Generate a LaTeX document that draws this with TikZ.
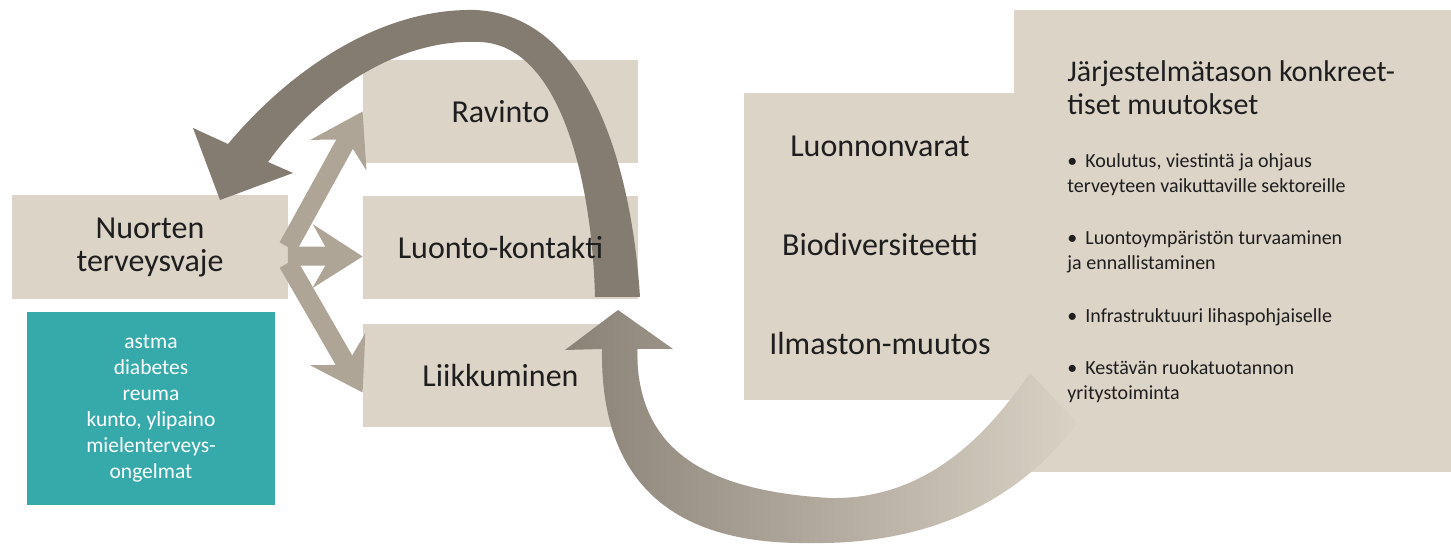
\documentclass[tikz,border=0pt]{standalone}
\usepackage{fontspec}
\setmainfont{Carlito}
\usetikzlibrary{arrows.meta}

\definecolor{boxfill}{HTML}{DDD4C8}
\definecolor{healthteal}{HTML}{36A9AA}
\definecolor{lightarr}{HTML}{AFA597}
\definecolor{darkarr}{HTML}{847C71}
\definecolor{gradleft}{HTML}{8A8276}
\definecolor{gradright}{HTML}{DAD1C5}
\definecolor{ink}{HTML}{1E1E1E}

\pgfdeclarelayer{background}
\pgfdeclarelayer{arrows}
\pgfsetlayers{background,arrows,main}

\tikzset{
  box/.style={minimum width=137.5pt, minimum height=51.5pt, inner sep=0pt,
    text=ink, font=\fontsize{16}{16.5}\selectfont, align=center},
  boxtext/.style={anchor=base, inner sep=0pt, text=ink, font=\fontsize{16}{16.5}\selectfont},
  listitem/.style={anchor=base west, inner sep=0pt, align=left, text=ink,
    font=\fontsize{10}{12.5}\selectfont},
  lightarrow/.style={draw=lightarr, line width=9.5pt,
    -{Stealth[length=25pt, width=32pt, inset=9pt, line width=0pt]}},
}

\begin{document}
\begin{tikzpicture}[x=0.5pt, y=-0.5pt]
\useasboundingbox (0,0) rectangle (1451,544);

% boxes
\node[box] (nuo) at (150,247) {Nuorten\\terveysvaje};
\node[box] (rav) at (500.5,111.5) {Ravinto};
\node[box] (luo) at (500.5,247.5) {Luonto-kontakti};
\node[box] (lii) at (500.5,375.5) {Liikkuminen};
\node[box, minimum width=135.5pt, minimum height=153.5pt] (res) at (879.5,246.5) {};
\node[box, minimum width=218.5pt, minimum height=231pt] (sys) at (1232.5,241) {};

\begin{pgfonlayer}{background}
  \foreach \n in {nuo,rav,luo,lii,res,sys}
    \fill[boxfill] (\n.south west) rectangle (\n.north east);
\end{pgfonlayer}

\node[fill=healthteal, minimum width=124pt, minimum height=96.5pt, text=white,
  align=center, font=\fontsize{10.75}{13}\selectfont] (dis) at (151,409)
  {astma\\diabetes\\reuma\\kunto, ylipaino\\mielenterveys-\\ongelmat};

% resources
\node[boxtext] (nat) at (880,157) {Luonnonvarat};
\node[boxtext] (bio) at (880,256) {Biodiversiteetti};
\node[boxtext] (cli) at (880,355) {Ilmaston-muutos};

% system level changes (base = last line)
\node[listitem, font=\fontsize{15}{16.5}\selectfont] (title) at (1067,115)
  {Järjestelmätason konkreet-\\tiset muutokset};
\node[listitem] (edu) at (1067,193)
  {\textbullet\hspace{4pt}Koulutus, viestintä ja ohjaus\\terveyteen vaikuttaville sektoreille};
\node[listitem] (env) at (1067,270)
  {\textbullet\hspace{4pt}Luontoympäristön turvaaminen\\ja ennallistaminen};
\node[listitem] (inf) at (1067,323)
  {\textbullet\hspace{4pt}Infrastruktuuri lihaspohjaiselle};
\node[listitem] (food) at (1067,400)
  {\textbullet\hspace{4pt}Kestävän ruokatuotannon\\yritystoiminta};

\begin{pgfonlayer}{arrows}
  \draw[lightarrow] (nuo.east) -- (rav.west);
  \draw[lightarrow] ([yshift=-4.5pt]nuo.east) -- ([yshift=-4.5pt]luo.west);
  \draw[lightarrow] ([yshift=-8pt]nuo.east) -- ([yshift=-8.5pt]lii.west);
  % feedback over the top
  \fill[darkarr] (595,297) -- (640,297) .. controls (632,170) and (590,15) .. (475,10)
    .. controls (380,8) and (290,70) .. (228,144) -- (193,128) -- (220,200) -- (293,173)
    -- (268,162) .. controls (320,90) and (400,38) .. (480,42)
    .. controls (560,45) and (592,180) .. (595,297) -- cycle;
  % feedback from below
  \shade[left color=gradleft, right color=gradright] (618,310) -- (673,349) -- (637,349)
    .. controls (637,440) and (690,490) .. (830,498)
    .. controls (930,500) and (990,430) .. (1030,373) -- (1077,423)
    .. controls (1020,500) and (930,545) .. (810,543)
    .. controls (670,545) and (600,480) .. (602,349) -- (565,350) -- cycle;
\end{pgfonlayer}
\end{tikzpicture}
\end{document}
